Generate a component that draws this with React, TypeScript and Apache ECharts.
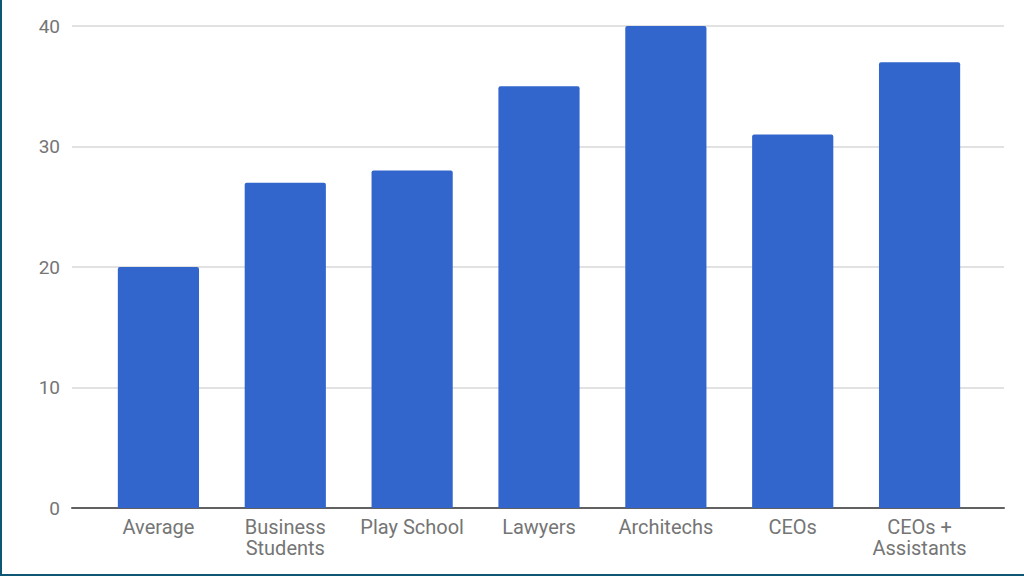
import React, { useEffect, useRef } from "react";
import * as echarts from "echarts";

const categories = ["Average", "Business\nStudents", "Play School", "Lawyers", "Architechs", "CEOs", "CEOs +\nAssistants"];
const values = [20, 27, 28, 35, 40, 31, 37];
const yTicks = [0, 10, 20, 30, 40];

export default function App() {
  const ref = useRef<HTMLDivElement>(null);
  useEffect(() => {
    if (!ref.current) return;
    const chart = echarts.init(ref.current, undefined, { renderer: "svg" });
    const font = "Roboto, 'Noto Sans', sans-serif";
    chart.setOption({
      animation: false,
      grid: [
        { left: 72, right: 20, top: 26, bottom: 66, containLabel: false },
        { left: 95, right: 41, top: 26, bottom: 66, containLabel: false },
      ],
      xAxis: [
        {
          type: "category",
          gridIndex: 0,
          data: [""],
          axisLine: { show: true, lineStyle: { color: "#616161", width: 2 } },
          axisTick: { show: false },
          axisLabel: { show: false },
          splitLine: { show: false },
        },
        {
          type: "category",
          gridIndex: 1,
          data: categories,
          axisLine: { show: false },
          axisTick: { show: false },
          axisLabel: {
            color: "#757575",
            fontFamily: font,
            fontSize: 20,
            lineHeight: 21,
            margin: 8,
            interval: 0,
          },
        },
      ],
      yAxis: [
        {
          type: "value",
          gridIndex: 0,
          min: yTicks[0],
          max: yTicks[yTicks.length - 1],
          interval: 10,
          axisLine: { show: false },
          axisTick: { show: false },
          axisLabel: { color: "#757575", fontFamily: font, fontSize: 19, margin: 12 },
          splitLine: { show: true, lineStyle: { color: "#d9d9d9", width: 1.5 } },
        },
        {
          type: "value",
          gridIndex: 1,
          min: yTicks[0],
          max: yTicks[yTicks.length - 1],
          interval: 10,
          show: false,
          splitLine: { show: false },
        },
      ],
      series: [
        {
          type: "bar",
          xAxisIndex: 1,
          yAxisIndex: 1,
          data: values,
          barWidth: "64%",
          itemStyle: { color: "#3366cc", borderRadius: [2, 2, 0, 0] },
          z: 3,
        },
      ],
    });
    return () => chart.dispose();
  }, []);
  return (
    <div
      style={{
        position: "fixed",
        left: 0,
        top: 0,
        width: 1024,
        height: 576,
        background: "#fff",
        boxSizing: "border-box",
        borderLeft: "2px solid #0d5775",
        borderBottom: "2px solid #0d5775",
      }}
    >
      <div ref={ref} style={{ position: "absolute", left: -2, top: 0, width: 1024, height: 574 }} />
    </div>
  );
}
